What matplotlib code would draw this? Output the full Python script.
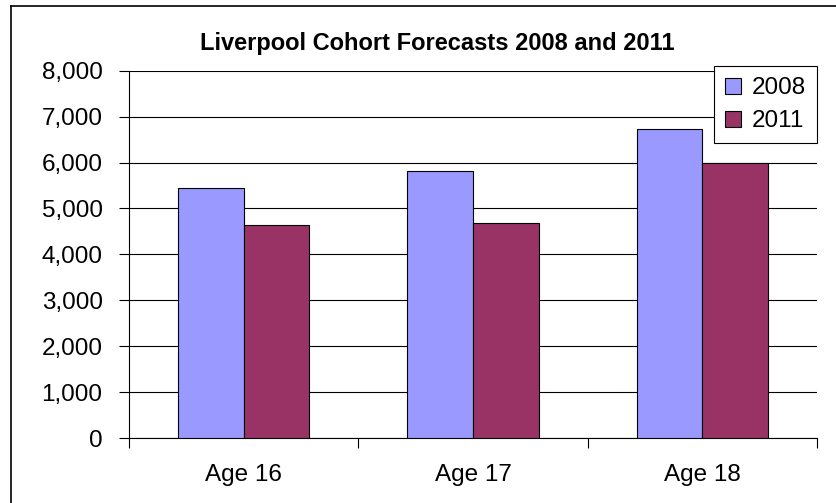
import matplotlib
matplotlib.use('agg')
import matplotlib.pyplot as plt
from matplotlib.lines import Line2D
from matplotlib.ticker import FuncFormatter
import numpy as np

categories = ['Age 16', 'Age 17', 'Age 18']
series_names = ['2008', '2011']
values_2008 = [5440, 5820, 6730]
values_2011 = [4650, 4690, 5985]
y_ticks = [0, 1000, 2000, 3000, 4000, 5000, 6000, 7000, 8000]

plt.rcParams['font.family'] = ['Liberation Sans', 'DejaVu Sans']

fig = plt.figure(figsize=(8.37, 5.03), dpi=100)
ax = fig.add_axes([0.1541, 0.1292, 0.8220, 0.7302])

x = np.arange(len(categories))
w = 0.286
ax.bar(x - w / 2, values_2008, w, color='#9999FF', edgecolor='black', linewidth=0.8,
       label=series_names[0], zorder=3)
ax.bar(x + w / 2, values_2011, w, color='#993366', edgecolor='black', linewidth=0.8,
       label=series_names[1], zorder=3)

ax.set_xlim(-0.5, len(categories) - 0.5)
ax.set_ylim(0, 8000)
ax.set_yticks(y_ticks)
ax.yaxis.set_major_formatter(FuncFormatter(lambda v, p: f'{int(v):,}'))
ax.yaxis.grid(True, color='black', linewidth=0.8, zorder=0)

# category boundaries as major ticks, labels on minor ticks
ax.set_xticks(np.arange(len(categories) + 1) - 0.5)
ax.set_xticklabels([])
ax.set_xticks(x, minor=True)
ax.set_xticklabels(categories, minor=True)
ax.tick_params(axis='x', which='major', length=7, width=0.8, direction='out')
ax.tick_params(axis='x', which='minor', length=0, labelsize=17.5, pad=19)
ax.tick_params(axis='y', length=7, width=0.8, direction='out', labelsize=17.5, pad=12)

for s in ['top', 'right']:
    ax.spines[s].set_visible(False)
ax.spines['left'].set_linewidth(0.8)
ax.spines['bottom'].set_linewidth(0.8)

leg = ax.legend(loc='upper right', bbox_to_anchor=(1.0, 1.012), fontsize=17.5, frameon=True,
                fancybox=False, edgecolor='black', framealpha=1, borderpad=0.45,
                handlelength=0.65, handleheight=0.65, handletextpad=0.45, labelspacing=0.45,
                borderaxespad=0)
leg.get_frame().set_linewidth(0.8)

fig.text(0.523, 0.9145, 'Liverpool Cohort Forecasts 2008 and 2011', ha='center', va='center',
         fontsize=17, fontweight='bold')

# chart border (cut off at right and bottom)
fig.add_artist(Line2D([0.0128, 0.0128], [0, 0.988], color='black', linewidth=1.2,
                      transform=fig.transFigure))
fig.add_artist(Line2D([0.0128, 1.0], [0.988, 0.988], color='black', linewidth=1.2,
                      transform=fig.transFigure))

fig.savefig('out.png', dpi=100)
